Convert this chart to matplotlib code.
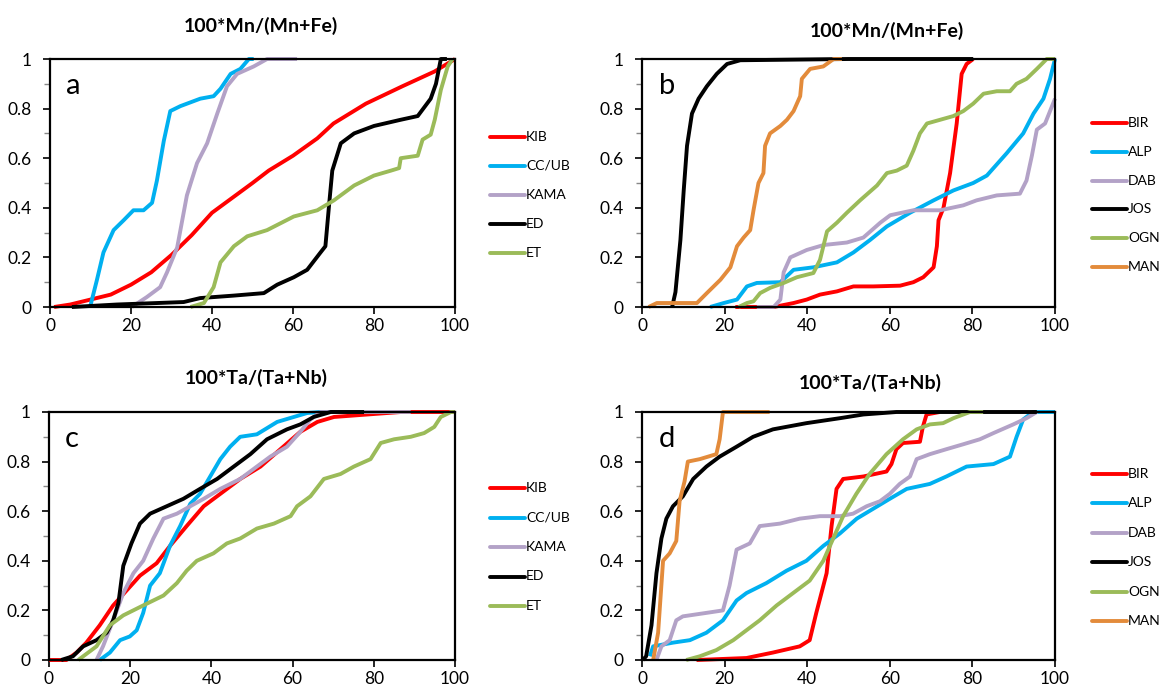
import matplotlib

matplotlib.use("Agg")
import matplotlib.pyplot as plt
from matplotlib.lines import Line2D
from matplotlib.ticker import MultipleLocator, FuncFormatter

plt.rcParams["font.family"] = ["Lato", "DejaVu Sans"]

RED = "#ff0000"
CYAN = "#00b0f0"
LAVENDER = "#b3a2c7"
BLACK = "#000000"
GREEN = "#9bbb59"
ORANGE = "#e38b3b"

# ---- panel a: 100*Mn/(Mn+Fe), provinces A ------------------------------------
a_kib_x = [1, 5, 10, 15, 20, 25, 30, 35, 40, 45, 50, 54, 60, 66, 70, 78, 87, 95, 100]
a_kib_y = [0, 0.01, 0.03, 0.05, 0.09, 0.14, 0.21, 0.29, 0.38, 0.44, 0.5, 0.55, 0.61,
           0.68, 0.74, 0.82, 0.89, 0.95, 1.0]
a_ccub_x = [9.9, 11.6, 13.2, 15.7, 18.2, 20.6, 23.1, 25.2, 26.4, 28.1, 29.7, 32.2, 37.1,
            40.4, 42.1, 44.6, 47, 49.1, 50.3]
a_ccub_y = [0, 0.11, 0.22, 0.31, 0.35, 0.39, 0.39, 0.42, 0.51, 0.67, 0.79, 0.81, 0.84,
            0.85, 0.88, 0.94, 0.96, 1.0, 1.0]
a_kama_x = [20.2, 23.9, 27.2, 28.9, 31.4, 33.8, 36.3, 38.8, 41.3, 43.7, 46.2, 50.3, 53.6, 61]
a_kama_y = [0, 0.04, 0.08, 0.14, 0.24, 0.45, 0.58, 0.66, 0.78, 0.89, 0.94, 0.97, 1.0, 1.0]
a_ed_x = [5.4, 16.5, 33, 37.1, 45.4, 52.8, 56.1, 60.2, 63.5, 66.8, 68, 68.9, 69.7, 71.8,
          75.1, 80, 86.6, 90.8, 94, 95.3, 96.5, 98]
a_ed_y = [0, 0.01, 0.02, 0.036, 0.046, 0.056, 0.09, 0.12, 0.15, 0.22, 0.245, 0.41, 0.55,
          0.66, 0.7, 0.73, 0.755, 0.77, 0.84, 0.9, 1.0, 1.0]
a_et_x = [34.7, 38, 40.4, 42.1, 45.4, 48.7, 53.6, 60.2, 66, 70.1, 75.1, 80, 84.2, 86.2,
          86.6, 90.8, 92, 94, 95, 96.5, 98.2, 99.4]
a_et_y = [0, 0.016, 0.08, 0.18, 0.245, 0.285, 0.31, 0.365, 0.39, 0.43, 0.49, 0.53, 0.55,
          0.56, 0.6, 0.61, 0.675, 0.695, 0.755, 0.875, 0.97, 1.0]

# ---- panel b: 100*Mn/(Mn+Fe), provinces B ------------------------------------
b_bir_x = [22.6, 31.9, 36.7, 39.9, 43.1, 47.2, 51.2, 56, 62.5, 65.7, 68.1, 70.6, 71.4,
           71.8, 73, 74.6, 76.2, 77.4, 78.6, 80.2]
b_bir_y = [0, 0, 0.016, 0.03, 0.05, 0.063, 0.083, 0.083, 0.086, 0.1, 0.12, 0.16, 0.245,
           0.35, 0.4, 0.54, 0.74, 0.94, 0.98, 1.0]
b_alp_x = [16.5, 19.8, 23, 25.4, 27.8, 33.5, 36.7, 41.5, 47.2, 51.2, 55.2, 59.3, 64.9,
           70.6, 75.4, 80.2, 83.5, 88.3, 92.3, 94.8, 97.2, 98.8, 100]
b_alp_y = [0, 0.016, 0.03, 0.083, 0.097, 0.1, 0.15, 0.16, 0.18, 0.22, 0.27, 0.325, 0.38,
           0.43, 0.47, 0.5, 0.53, 0.62, 0.7, 0.78, 0.84, 0.92, 1.0]
b_dab_x = [27.8, 31.9, 33.5, 34.3, 35.9, 39.9, 44, 49.6, 53.6, 57.7, 60.1, 65.7, 72.2,
           77.8, 81, 85.9, 91.5, 93.1, 94.4, 95.6, 97.6, 98.8, 100]
b_dab_y = [0, 0, 0.03, 0.14, 0.2, 0.23, 0.25, 0.26, 0.28, 0.34, 0.37, 0.39, 0.39, 0.41,
           0.43, 0.45, 0.457, 0.51, 0.61, 0.715, 0.74, 0.79, 0.84]
b_jos_x = [7.3, 8.1, 9.3, 10.1, 10.9, 12.1, 13.7, 15.7, 18.1, 20.6, 23.8, 50, 80.2]
b_jos_y = [0, 0.06, 0.27, 0.47, 0.65, 0.78, 0.84, 0.89, 0.94, 0.98, 0.995, 1.0, 1.0]
b_ogn_x = [23.4, 25.4, 27, 28.6, 31, 34.3, 37.5, 41.5, 43.1, 44.8, 47.2, 49.6, 52.8,
           56.9, 59.3, 61.7, 64.1, 65.7, 67.3, 69, 72.2, 75.4, 77.8, 80.2, 82.7, 85.9,
           89.1, 90.7, 93.1, 95.6, 98, 100]
b_ogn_y = [0, 0.016, 0.023, 0.056, 0.077, 0.097, 0.12, 0.137, 0.19, 0.305, 0.34, 0.38,
           0.43, 0.49, 0.54, 0.55, 0.57, 0.63, 0.7, 0.74, 0.755, 0.77, 0.79, 0.82, 0.86,
           0.87, 0.87, 0.9, 0.92, 0.96, 1.0, 1.0]
b_man_x = [1.6, 3.6, 13.3, 15.7, 19, 21.4, 23, 24.6, 26.2, 27, 28.2, 29.4, 29.8, 31,
           33.5, 35.1, 36.7, 38.3, 38.7, 40.7, 43.9, 46.4, 48.4]
b_man_y = [0, 0.016, 0.016, 0.056, 0.11, 0.16, 0.245, 0.28, 0.31, 0.39, 0.5, 0.54, 0.65,
           0.7, 0.73, 0.755, 0.79, 0.85, 0.92, 0.96, 0.97, 1.0, 1.0]

# ---- panel c: 100*Ta/(Ta+Nb), provinces A ------------------------------------
c_kib_x = [0, 4.3, 6.8, 9.2, 12.5, 15.8, 19.1, 22.4, 26.5, 29.8, 33.9, 38.1, 42.2, 47.1,
           52.1, 57, 61.9, 66.1, 70.2, 78.4, 86.7, 100]
c_kib_y = [0, 0, 0.03, 0.07, 0.14, 0.22, 0.28, 0.34, 0.39, 0.46, 0.54, 0.62, 0.67, 0.73,
           0.78, 0.85, 0.92, 0.96, 0.98, 0.99, 1.0, 1.0]
c_ccub_x = [12.5, 15, 17.5, 19.9, 21.6, 23.2, 24.9, 27.3, 29.8, 32.3, 34.8, 37.2, 39.7,
            42.2, 44.6, 47.1, 51.2, 53.7, 56.2, 60.3, 63.6, 66.9, 70.2]
c_ccub_y = [0, 0.03, 0.08, 0.095, 0.12, 0.19, 0.3, 0.35, 0.46, 0.54, 0.63, 0.67, 0.74,
            0.81, 0.86, 0.9, 0.91, 0.935, 0.96, 0.98, 0.996, 1.0, 1.0]
c_kama_x = [11.7, 13.3, 15.8, 18.3, 20.8, 23.2, 25.7, 28.2, 31.5, 34.8, 38.1, 42.2, 47.1,
            51.2, 54.5, 58.6, 61.9, 64.4, 66.9, 89.1]
c_kama_y = [0, 0.055, 0.16, 0.27, 0.35, 0.4, 0.49, 0.57, 0.59, 0.62, 0.65, 0.69, 0.73,
            0.78, 0.82, 0.86, 0.92, 0.97, 1.0, 1.0]
c_ed_x = [3, 5.9, 8.4, 11.7, 14.2, 15.8, 17.1, 18.3, 20.3, 22.4, 24.9, 29, 33.1, 37.2,
          41.4, 45.5, 49.6, 53.7, 58.6, 61.9, 65.2, 69.4, 77.6]
c_ed_y = [0, 0.015, 0.055, 0.08, 0.11, 0.16, 0.23, 0.38, 0.47, 0.55, 0.59, 0.62, 0.65,
          0.69, 0.73, 0.78, 0.83, 0.89, 0.93, 0.95, 0.98, 1.0, 1.0]
c_et_x = [7.2, 11.7, 15, 18.3, 23.2, 28.2, 31.5, 33.9, 36.4, 40.5, 43.8, 47.1, 51.2, 55.4,
          59.5, 61.1, 64.4, 67.7, 71.8, 75.1, 79.2, 81.7, 85, 89.1, 92.4, 94.9, 96.5,
          99, 100]
c_et_y = [0, 0.055, 0.14, 0.18, 0.22, 0.26, 0.31, 0.36, 0.4, 0.43, 0.47, 0.49, 0.53, 0.55,
          0.58, 0.62, 0.66, 0.73, 0.75, 0.78, 0.81, 0.875, 0.89, 0.9, 0.915, 0.94, 0.98,
          1.0, 1.0]

# ---- panel d: 100*Ta/(Ta+Nb), provinces B ------------------------------------
d_bir_x = [13.2, 25.3, 31.7, 38.2, 40.6, 42.2, 44.7, 45.9, 47.1, 48.7, 53.6, 59.2, 60.4,
           61.6, 63.2, 67.3, 68, 68.9, 72.1]
d_bir_y = [0, 0.008, 0.03, 0.055, 0.08, 0.19, 0.35, 0.54, 0.69, 0.73, 0.74, 0.76, 0.79,
           0.85, 0.875, 0.88, 0.94, 0.99, 1.0]
d_alp_x = [1.9, 2.7, 7.5, 11.6, 15.6, 19.6, 22.9, 25.3, 30.1, 35, 39.8, 43.9, 47.9, 52,
           56, 60, 64.1, 69.7, 73.7, 78.6, 85.1, 89.1, 90.7, 92.3, 94.7, 100]
d_alp_y = [0.015, 0.055, 0.07, 0.08, 0.11, 0.16, 0.24, 0.27, 0.31, 0.36, 0.4, 0.46, 0.51,
           0.57, 0.61, 0.65, 0.69, 0.71, 0.74, 0.78, 0.79, 0.82, 0.9, 0.97, 1.0, 1.0]
d_dab_x = [3.5, 4.7, 6.7, 8.3, 9.9, 15.6, 19.6, 21.2, 22.9, 26.1, 28.5, 33.4, 38.2, 43.1,
           47.9, 51.1, 54.4, 57.6, 60, 62.4, 64.9, 66.5, 69.7, 73.7, 77.8, 81.8, 85.1,
           89.9, 93.1, 95.6]
d_dab_y = [0, 0.055, 0.08, 0.16, 0.176, 0.19, 0.2, 0.3, 0.445, 0.47, 0.54, 0.55, 0.57,
           0.58, 0.58, 0.59, 0.62, 0.64, 0.67, 0.71, 0.74, 0.81, 0.83, 0.85, 0.87, 0.89,
           0.915, 0.95, 0.975, 1.0]
d_jos_x = [0.2, 1, 2.3, 3.5, 4.7, 5.9, 7.5, 9.9, 12.4, 15.6, 18.8, 22.9, 26.9, 31.7,
           39.8, 47.9, 53.6, 61.6, 95.6]
d_jos_y = [0, 0.015, 0.14, 0.35, 0.49, 0.57, 0.62, 0.66, 0.73, 0.78, 0.82, 0.86, 0.9,
           0.93, 0.955, 0.975, 0.99, 1.0, 1.0]
d_ogn_x = [10.7, 14, 18, 22.1, 25.3, 28.5, 32.6, 36.6, 40.6, 43.9, 46.3, 48.7, 51.9, 55.1,
           59.2, 63.2, 66.5, 69.7, 72.9, 75.4, 79.4, 82.6]
d_ogn_y = [0, 0.015, 0.04, 0.08, 0.12, 0.16, 0.22, 0.27, 0.32, 0.4, 0.49, 0.58, 0.67,
           0.75, 0.83, 0.89, 0.93, 0.95, 0.955, 0.975, 1.0, 1.0]
d_man_x = [2.7, 3.9, 5.1, 6.7, 8.3, 9.1, 10.3, 11.1, 14, 18, 18.8, 19.6, 30.9]
d_man_y = [0, 0.11, 0.4, 0.43, 0.48, 0.64, 0.72, 0.8, 0.81, 0.83, 0.89, 1.0, 1.0]

GROUP_A = ["KIB", "CC/UB", "KAMA", "ED", "ET"]
GROUP_B = ["BIR", "ALP", "DAB", "JOS", "OGN", "MAN"]
COLORS_A = [RED, CYAN, LAVENDER, BLACK, GREEN]
COLORS_B = [RED, CYAN, LAVENDER, BLACK, GREEN, ORANGE]

panels = [
    ("a", "100*Mn/(Mn+Fe)", GROUP_A, COLORS_A,
     [(a_kib_x, a_kib_y), (a_ccub_x, a_ccub_y), (a_kama_x, a_kama_y),
      (a_ed_x, a_ed_y), (a_et_x, a_et_y)]),
    ("b", "100*Mn/(Mn+Fe)", GROUP_B, COLORS_B,
     [(b_bir_x, b_bir_y), (b_alp_x, b_alp_y), (b_dab_x, b_dab_y),
      (b_jos_x, b_jos_y), (b_ogn_x, b_ogn_y), (b_man_x, b_man_y)]),
    ("c", "100*Ta/(Ta+Nb)", GROUP_A, COLORS_A,
     [(c_kib_x, c_kib_y), (c_ccub_x, c_ccub_y), (c_kama_x, c_kama_y),
      (c_ed_x, c_ed_y), (c_et_x, c_et_y)]),
    ("d", "100*Ta/(Ta+Nb)", GROUP_B, COLORS_B,
     [(d_bir_x, d_bir_y), (d_alp_x, d_alp_y), (d_dab_x, d_dab_y),
      (d_jos_x, d_jos_y), (d_ogn_x, d_ogn_y), (d_man_x, d_man_y)]),
]

W, H = 1162, 689
# axes boxes in pixels: left, top, right, bottom
boxes = [(50, 59, 455, 307), (642, 59, 1055, 307),
         (49, 412, 455, 660), (642, 412, 1055, 660)]
title_pos = [(261, 26), (887, 31), (256, 378), (870, 383)]
# legend: x of line start, y of first entry, row step (pixels)
legend_pos = [(490, 137, 29), (1092, 123, 28.8), (490, 488, 29.5), (1092, 474, 29.4)]

fig = plt.figure(figsize=(W / 100, H / 100), dpi=100)


def fx(px):
    return px / W


def fy(py):
    return 1 - py / H


for (letter, title, names, colors, series), box, tpos, lpos in zip(
        panels, boxes, title_pos, legend_pos):
    l, t, r, b = box
    ax = fig.add_axes([fx(l), fy(b), (r - l) / W, (b - t) / H])
    for (xs, ys), col in zip(series, colors):
        ax.plot(xs, ys, color=col, lw=2.8, solid_capstyle="butt",
                solid_joinstyle="round", clip_on=False)
    ax.set_xlim(0, 100)
    ax.set_ylim(0, 1)
    ax.xaxis.set_major_locator(MultipleLocator(20))
    ax.yaxis.set_major_locator(MultipleLocator(0.2))
    ax.yaxis.set_minor_locator(MultipleLocator(0.1))
    ax.yaxis.set_major_formatter(FuncFormatter(lambda v, p: f"{v:g}"))
    ax.tick_params(axis="both", which="major", direction="out", length=5,
                   width=1.2, labelsize=12.5)
    ax.tick_params(axis="x", which="major", pad=3)
    ax.tick_params(axis="y", which="major", pad=8)
    ax.tick_params(axis="y", which="minor", direction="out", length=4, width=1,
                   color="#888888")
    for s in ax.spines.values():
        s.set_linewidth(1.6)
        s.set_zorder(3)
    ax.text(4, 0.86, letter, fontsize=21, ha="left", va="baseline")
    fig.text(fx(tpos[0]), fy(tpos[1]), title, fontsize=14, fontweight="bold",
             ha="center", va="center")

    # legend drawn as plain lines + labels, Excel style
    lx, ly, step = lpos
    for i, (name, col) in enumerate(zip(names, colors)):
        yy = ly + i * step
        fig.add_artist(Line2D([fx(lx), fx(lx + 35)], [fy(yy), fy(yy)],
                              color=col, lw=2.8, solid_capstyle="round"))
        fig.text(fx(lx + 36), fy(yy), name, fontsize=10, ha="left", va="center")

fig.savefig("out.png", dpi=100)
